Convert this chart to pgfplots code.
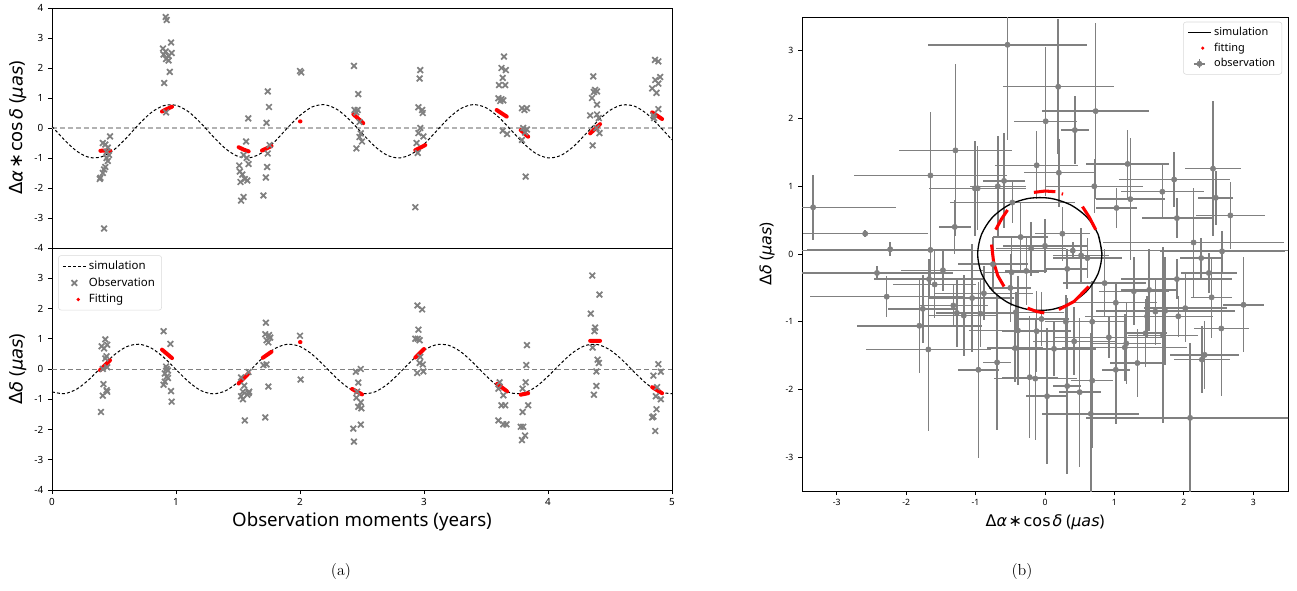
\documentclass[border=0pt]{standalone}
\usepackage{fontspec}
\usepackage{pgfplots}
\pgfplotsset{compat=1.18}
\newfontfamily\nsans{Noto Sans}
\newfontfamily\dv{DejaVu Sans}
\definecolor{obs}{RGB}{128,128,128}
\pgfplotsset{
  myax/.style={scale only axis, tick pos=left, tick align=outside, major tick length=3pt,
    axis line style={line width=0.7pt}, tick style={black,line width=0.6pt},
    tick label style={font=\nsans\fontsize{7.4}{8}\selectfont},
    label style={font=\nsans\fontsize{14}{16}\selectfont},
    unbounded coords=jump},
  obsx/.style={only marks, mark=x, mark size=3pt, color=obs, mark options={line width=1.3pt}},
  sim/.style={black, line width=0.75pt, dash pattern=on 2.2pt off 1.6pt, smooth, no marks},
  fit/.style={red, line width=3pt, line cap=round, no marks,
    legend image code/.code={\node[circle, fill=red, draw=none, inner sep=0pt, minimum size=2.8pt] at (0.3cm,0cm) {};}},
}
\newcommand{\dalab}{{\dv Δ\textit{α}\kern0.1em∗\kern0.1emcos\kern0.12em\textit{δ}} ({\dv\textit{μas}})}
\newcommand{\ddlab}{{\dv Δ\textit{δ}} ({\dv\textit{μas}})}
\begin{document}
\begin{tikzpicture}[x=1pt,y=1pt]
\path[use as bounding box] (0,0) rectangle (972.75,442.5);

%================ top left =================
\begin{axis}[myax, at={(39pt,256.5pt)}, anchor=south west, width=465pt, height=180pt,
  xmin=0, xmax=5, ymin=-4, ymax=4, xtick=\empty,
  ytick={-4,-3,-2,-1,0,1,2,3,4}, yticklabels={-4,-3,-2,-1,0,1,2,3,4},
  ylabel={\dalab}, ylabel style={at={(axis description cs:-0.055,0.5)}, anchor=center, font=\nsans\fontsize{13.5}{16}\selectfont}]
\addplot[gray!60, line width=1pt, dash pattern=on 4pt off 2pt] coordinates {(0,0) (5,0)};
\addplot[sim] coordinates {
(0,0.055)(0.1,-0.396)(0.2,-0.773)(0.3,-0.979)(0.4,-0.961)(0.5,-0.726)(0.6,-0.331)(0.7,0.121)(0.8,0.513)(0.9,0.744)
(1.0,0.756)(1.1,0.545)(1.2,0.165)(1.3,-0.286)(1.4,-0.691)(1.5,-0.947)(1.6,-0.988)(1.7,-0.805)(1.8,-0.438)(1.9,0.009)
(2.0,0.421)(2.1,0.706)(2.2,0.775)(2.3,0.617)(2.4,0.271)(2.5,-0.173)(2.6,-0.601)(2.7,-0.902)(2.8,-0.999)(2.9,-0.868)
(3.0,-0.542)(3.1,-0.104)(3.2,0.332)(3.3,0.655)(3.4,0.780)(3.5,0.676)(3.6,0.371)(3.7,-0.058)(3.8,-0.501)(3.9,-0.843)
(4.0,-0.996)(4.1,-0.921)(4.2,-0.638)(4.3,-0.219)(4.4,0.229)(4.5,0.590)(4.6,0.769)(4.7,0.723)(4.8,0.463)(4.9,0.055)(5.0,-0.396)};
\addplot[obsx] coordinates {
(0.468,-0.28)(0.41,-0.50)(0.43,-0.55)(0.45,-0.65)(0.44,-0.80)(0.46,-0.90)(0.44,-1.00)(0.45,-1.10)(0.43,-1.30)(0.42,-1.38)(0.41,-1.50)(0.39,-1.66)(0.385,-1.70)(0.42,-3.35)
(0.917,3.70)(0.925,3.60)(0.96,2.85)(0.895,2.65)(0.917,2.55)(0.965,2.50)(0.90,2.45)(0.94,2.40)(0.92,2.30)(0.94,2.25)(0.95,1.87)(0.905,1.50)(0.92,0.52)
(1.583,0.32)(1.565,-0.45)(1.545,-0.90)(1.57,-1.00)(1.51,-1.25)(1.515,-1.45)(1.535,-1.55)(1.555,-1.70)(1.575,-1.75)(1.52,-1.80)(1.585,-1.20)(1.545,-2.30)(1.525,-2.42)
(1.74,1.22)(1.75,0.70)(1.73,0.17)(1.755,-0.57)(1.74,-0.85)(1.735,-1.30)(1.725,-1.65)(1.705,-2.25)
(2.00,1.90)(2.01,1.85)
(2.435,2.07)(2.47,1.13)(2.44,0.60)(2.465,0.60)(2.455,0.52)(2.48,0.20)(2.49,-0.18)(2.48,-0.30)(2.50,-0.45)(2.455,-0.68)
(2.97,1.93)(2.965,1.65)(2.955,0.69)(2.99,0.50)(2.985,0.60)(2.97,0.00)(2.955,-0.17)(2.995,-0.28)(2.94,-0.50)(2.95,-0.83)(2.93,-2.64)
(3.645,2.38)(3.625,2.00)(3.66,1.93)(3.635,1.67)(3.605,1.43)(3.655,1.43)(3.60,0.99)(3.625,0.96)(3.64,0.92)(3.615,0.90)(3.635,-0.09)(3.67,-0.20)
(3.79,0.66)(3.83,0.66)(3.81,0.60)(3.80,0.00)(3.83,-0.05)(3.815,-0.15)(3.79,-0.40)(3.82,-1.62)
(4.365,1.72)(4.38,1.27)(4.395,1.22)(4.37,1.20)(4.355,1.00)(4.395,0.78)(4.34,0.42)(4.395,0.45)(4.41,0.33)(4.39,0.00)(4.415,-0.17)(4.36,-0.58)
(4.863,2.27)(4.89,2.22)(4.865,1.60)(4.905,1.70)(4.89,1.48)(4.84,1.32)(4.875,1.17)(4.89,0.63)(4.85,0.42)(4.855,0.33)};
\addplot[fit] coordinates {
(0.39,-0.76)(0.43,-0.75)(0.47,-0.76)(0.47,nan)
(0.887,0.55)(0.93,0.64)(0.968,0.71)(0.968,nan)
(1.505,-0.64)(1.545,-0.72)(1.586,-0.78)(1.586,nan)
(1.694,-0.75)(1.73,-0.68)(1.77,-0.60)(1.77,nan)
(2.0,0.22)(2.004,0.22)(2.004,nan)
(2.43,0.46)(2.51,0.16)(2.51,nan)
(2.93,-0.74)(3.01,-0.57)(3.01,nan)
(3.586,0.60)(3.667,0.38)(3.667,nan)
(3.78,-0.07)(3.84,-0.29)(3.84,nan)
(4.34,-0.18)(4.42,0.13)(4.42,nan)
(4.84,0.52)(4.92,0.30)};
\end{axis}

%================ bottom left =================
\begin{axis}[myax, at={(39pt,75pt)}, anchor=south west, width=465pt, height=181.5pt,
  xmin=0, xmax=5, ymin=-4, ymax=4,
  xtick={0,1,2,3,4,5}, xticklabels={0,1,2,3,4,5},
  ytick={-4,-3,-2,-1,0,1,2,3}, yticklabels={-4,-3,-2,-1,0,1,2,3},
  xlabel={Observation moments (years)}, xlabel style={at={(axis description cs:0.5,-0.132)}, anchor=center},
  ylabel={\ddlab}, ylabel style={at={(axis description cs:-0.055,0.5)}, anchor=center, font=\nsans\fontsize{13.5}{16}\selectfont},
  legend style={at={(0.01,0.97)}, anchor=north west, font=\nsans\fontsize{8.6}{10}\selectfont,
    draw=black!15, rounded corners=2pt, fill=white, row sep=0.5pt},
  legend cell align=left]
\addplot[gray, line width=0.7pt, dash pattern=on 4pt off 2pt, forget plot] coordinates {(0,0) (5,0)};
\addplot[sim] coordinates {
(0,-0.756)(0.1,-0.814)(0.2,-0.663)(0.3,-0.342)(0.4,0.068)(0.5,0.460)(0.6,0.734)(0.7,0.819)(0.8,0.693)(0.9,0.388)
(1.0,-0.016)(1.1,-0.416)(1.2,-0.711)(1.3,-0.820)(1.4,-0.720)(1.5,-0.435)(1.6,-0.037)(1.7,0.370)(1.8,0.681)(1.9,0.818)
(2.0,0.743)(2.1,0.477)(2.2,0.089)(2.3,-0.322)(2.4,-0.651)(2.5,-0.812)(2.6,-0.763)(2.7,-0.520)(2.8,-0.142)(2.9,0.272)
(3.0,0.619)(3.1,0.803)(3.2,0.782)(3.3,0.559)(3.4,0.193)(3.5,-0.223)(3.6,-0.580)(3.7,-0.790)(3.8,-0.796)(3.9,-0.597)
(4.0,-0.244)(4.1,0.171)(4.2,0.541)(4.3,0.775)(4.4,0.807)(4.5,0.631)(4.6,0.293)(4.7,-0.120)(4.8,-0.503)(4.9,-0.754)(5.0,-0.815)};
\addlegendentry{simulation}
\addplot[obsx] coordinates {
(0.43,0.98)(0.445,0.80)(0.40,0.75)(0.42,0.68)(0.44,0.42)(0.43,0.35)(0.41,0.00)(0.445,0.06)(0.415,-0.50)(0.41,-0.88)(0.44,-0.70)(0.445,-0.75)(0.395,-1.42)
(0.90,1.25)(0.955,0.83)(0.92,0.08)(0.925,0.00)(0.935,-0.05)(0.91,-0.15)(0.925,-0.25)(0.935,-0.30)(0.91,-0.42)(0.90,-0.52)(0.96,-0.73)(0.965,-1.08)
(1.525,-0.28)(1.55,-0.55)(1.54,-0.75)(1.59,-0.75)(1.575,-0.85)(1.525,-0.90)(1.54,-1.00)(1.585,-0.80)(1.555,-1.70)(1.585,-0.10)
(1.725,1.53)(1.72,1.15)(1.75,1.12)(1.76,1.04)(1.745,0.88)(1.73,0.95)(1.705,0.13)(1.73,0.15)(1.745,-0.58)(1.72,-1.60)
(2.00,1.10)(2.005,-0.35)
(2.45,-0.09)(2.49,0.00)(2.47,-0.45)(2.46,-0.75)(2.49,-1.10)(2.47,-1.25)(2.495,-1.30)(2.43,-1.97)(2.49,-1.84)(2.435,-2.40)(2.455,-0.95)
(2.947,2.10)(2.985,1.97)(2.955,1.30)(2.93,1.00)(2.95,1.00)(2.965,0.95)(2.97,0.40)(2.965,0.20)(2.99,0.15)(2.945,-0.13)(2.995,-0.08)
(3.61,-0.44)(3.60,-0.65)(3.64,-0.87)(3.625,-1.20)(3.655,-1.20)(3.60,-1.70)(3.64,-1.83)(3.665,-1.83)
(3.83,0.79)(3.825,0.13)(3.82,-0.44)(3.795,-0.65)(3.84,-1.20)(3.795,-1.42)(3.78,-1.91)(3.80,-1.91)(3.815,-2.20)(3.79,-2.35)
(4.357,3.09)(4.415,2.46)(4.345,1.83)(4.38,1.37)(4.375,1.25)(4.36,0.71)(4.40,0.31)(4.41,0.20)(4.39,-0.08)(4.39,-0.56)(4.37,-0.85)
(4.89,0.16)(4.91,-0.09)(4.85,-0.22)(4.87,-0.90)(4.91,-1.00)(4.875,-1.33)(4.85,-1.57)(4.84,-1.60)(4.865,-2.05)(4.88,-0.60)};
\addlegendentry{Observation}
\addplot[fit] coordinates {
(0.387,-0.04)(0.468,0.29)(0.468,nan)
(0.887,0.64)(0.968,0.36)(0.968,nan)
(1.505,-0.48)(1.586,-0.14)(1.586,nan)
(1.70,0.37)(1.77,0.57)(1.77,nan)
(2.0,0.89)(2.004,0.89)(2.004,nan)
(2.42,-0.66)(2.50,-0.84)(2.50,nan)
(2.93,0.38)(3.0,0.66)(3.0,nan)
(3.59,-0.49)(3.67,-0.74)(3.67,nan)
(3.78,-0.85)(3.84,-0.80)(3.84,nan)
(4.34,0.93)(4.42,0.93)(4.42,nan)
(4.84,-0.60)(4.92,-0.80)};
\addlegendentry{Fitting}
\end{axis}

%================ right =================
\begin{axis}[myax, at={(601.5pt,74.25pt)}, anchor=south west, width=364.5pt, height=355.5pt,
  xmin=-3.5, xmax=3.5, ymin=-3.5, ymax=3.5,
  xtick={-3,-2,-1,0,1,2,3}, xticklabels={-3,-2,-1,0,1,2,3},
  ytick={-3,-2,-1,0,1,2,3}, yticklabels={-3,-2,-1,0,1,2,3},
  tick label style={font=\nsans\fontsize{6.5}{7}\selectfont},
  label style={font=\nsans\fontsize{12}{14}\selectfont},
  xlabel={\dalab}, xlabel style={at={(axis description cs:0.5,-0.065)}, anchor=center},
  ylabel={\ddlab}, ylabel style={at={(axis description cs:-0.072,0.5)}, anchor=center},
  legend style={at={(0.988,0.99)}, anchor=north east, font=\nsans\fontsize{8.2}{9.5}\selectfont,
    draw=black!15, rounded corners=2pt, fill=white},
  legend cell align=left]
\addplot[only marks, mark=*, mark size=2pt, color=obs, forget plot,
  error bars/.cd, x dir=both, x explicit, y dir=both, y explicit, error mark=none,
  error bar style={obs, line width=1.1pt}] coordinates {
(-3.34,0.69) +- (1.2,0.48)
(-2.59,0.30) +- (0.9,0.05)
(-2.23,0.07) +- (1.2,0.1)
(0.40,0.05) +- (4.0,0.12)
(-1.65,1.16) +- (1.1,0.94)
(-1.65,0.06) +- (0.6,0.5)
(-1.29,1.53) +- (0.82,1.27)
(-1.30,0.40) +- (0.23,0.4)
(-1.01,0.97) +- (0.5,0.7)
(-0.97,0.97) +- (0.7,0.62)
(-0.68,1.00) +- (0.4,0.75)
(-0.59,1.08) +- (0.3,0.7)
(-0.54,3.09) +- (1.15,1.4)
(-0.12,1.31) +- (0.6,0.5)
(0.01,1.96) +- (0.45,1.1)
(0.00,0.12) +- (0.6,0.4)
(-0.47,0.76) +- (0.9,0.3)
(0.19,2.47) +- (0.8,1.0)
(0.73,2.11) +- (0.77,1.3)
(0.43,1.83) +- (0.2,0.5)
(1.19,1.33) +- (0.6,0.5)
(0.20,1.20) +- (0.5,0.5)
(1.86,1.10) +- (0.8,0.4)
(2.42,1.26) +- (0.4,1.0)
(2.46,0.83) +- (0.25,0.4)
(2.67,0.57) +- (0.5,0.5)
(1.90,0.53) +- (0.5,0.3)
(1.69,0.92) +- (0.6,0.4)
(1.03,0.68) +- (0.3,0.3)
(1.23,0.81) +- (0.5,0.9)
(0.71,1.00) +- (0.7,0.4)
(2.14,0.17) +- (1.3,0.8)
(2.55,0.04) +- (0.9,0.3)
(-2.42,-0.28) +- (1.1,0.1)
(-2.28,-0.63) +- (1.1,0.3)
(-1.67,-0.37) +- (0.8,0.3)
(-1.59,-0.45) +- (0.6,0.5)
(-1.47,-0.24) +- (0.6,0.3)
(-1.76,-0.81) +- (0.5,0.5)
(-1.81,-1.06) +- (0.9,0.7)
(-1.68,-1.41) +- (0.9,1.2)
(-1.32,-0.76) +- (0.5,0.3)
(-1.27,-0.87) +- (0.3,0.5)
(-1.17,-0.91) +- (0.5,0.6)
(-1.05,-0.65) +- (0.6,0.8)
(-0.93,-0.88) +- (0.5,0.5)
(-0.88,-0.58) +- (0.7,0.4)
(-0.96,-1.71) +- (0.3,1.3)
(-0.69,-1.60) +- (0.2,1.0)
(-0.42,-0.86) +- (0.7,0.3)
(-0.39,-1.13) +- (0.7,0.8)
(-0.43,-1.39) +- (0.4,0.5)
(-0.22,-1.82) +- (0.4,0.9)
(-0.14,-1.84) +- (0.6,0.9)
(-0.12,-1.14) +- (0.5,0.6)
(0.03,-2.10) +- (0.3,1.0)
(-0.05,-0.96) +- (0.4,0.4)
(-0.27,-0.25) +- (0.3,0.5)
(-0.48,-0.27) +- (0.4,0.5)
(-0.50,-0.50) +- (0.3,0.5)
(1.90,-0.37) +- (0.8,0.3)
(2.25,-0.06) +- (0.3,0.3)
(2.36,-0.28) +- (0.4,0.3)
(2.40,-0.64) +- (0.3,0.6)
(2.54,-1.10) +- (0.4,1.0)
(2.86,-0.75) +- (0.3,0.7)
(1.28,-0.55) +- (0.5,0.5)
(1.50,-0.53) +- (0.4,0.6)
(1.02,-0.72) +- (0.6,0.3)
(1.59,-0.85) +- (0.7,0.5)
(1.47,-0.92) +- (0.9,0.3)
(1.73,-0.84) +- (1.0,0.8)
(2.02,-0.80) +- (0.6,0.5)
(1.92,-0.92) +- (0.5,0.3)
(1.45,-1.17) +- (0.3,0.5)
(1.70,-1.20) +- (0.5,1.3)
(0.92,-1.23) +- (0.8,0.3)
(1.17,-1.32) +- (0.5,0.6)
(1.15,-1.38) +- (0.9,0.5)
(1.33,-1.61) +- (0.4,0.5)
(1.02,-1.71) +- (0.2,0.8)
(2.26,-1.56) +- (0.4,0.5)
(2.30,-1.49) +- (0.5,0.5)
(2.09,-2.42) +- (1.5,1.1)
(0.66,-2.36) +- (0.7,1.2)
(0.32,-1.95) +- (0.2,1.3)
(0.50,-2.04) +- (0.3,1.1)
(0.68,-1.87) +- (0.3,1.0)
(0.13,-1.40) +- (0.6,0.4)
(0.42,-1.29) +- (0.6,0.5)
(0.30,-1.00) +- (0.3,0.4)
(0.68,-1.00) +- (0.5,0.6)
(0.86,-0.43) +- (0.6,0.5)
(0.32,-0.22) +- (0.3,0.3)
(0.61,-0.06) +- (0.5,0.3)
(0.52,-0.02) +- (0.4,0.4)
(-0.20,0.08) +- (0.5,0.4)
(-0.35,0.25) +- (0.4,0.5)
(0.25,0.30) +- (0.4,0.4)
(-0.75,-0.15) +- (0.5,0.4)
};
\addplot[black, line width=1pt, smooth, no marks] coordinates {
(0.820,0)(0.766,0.286)(0.611,0.537)(0.373,0.723)(0.080,0.822)(-0.230,0.822)(-0.523,0.723)(-0.761,0.537)(-0.916,0.286)
(-0.970,0)(-0.916,-0.286)(-0.761,-0.537)(-0.523,-0.723)(-0.230,-0.822)(0.080,-0.822)(0.373,-0.723)(0.611,-0.537)(0.766,-0.286)(0.820,0)(0.766,0.286)};
\addlegendentry{simulation}
\addplot[red, line width=2.3pt, no marks, legend image code/.code={\node[circle, fill=red, draw=none, inner sep=0pt, minimum size=2.6pt] at (0.3cm,0cm) {};}] coordinates {
(-0.16,0.91)(0,0.93)(0.15,0.92)(0.15,nan)
(0.24,0.89)(0.26,0.885)(0.26,nan)
(0.54,0.70)(0.64,0.54)(0.73,0.36)(0.73,nan)
(-0.54,0.65)(-0.63,0.51)(-0.71,0.36)(-0.71,nan)
(-0.77,0.14)(-0.74,-0.12)(-0.68,-0.32)(-0.59,-0.48)(-0.59,nan)
(-0.25,-0.80)(-0.12,-0.85)(-0.01,-0.87)(-0.01,nan)
(0.20,-0.82)(0.42,-0.70)(0.63,-0.48)};
\addlegendentry{fitting}
\addlegendimage{legend image code/.code={\draw[obs, line width=1.1pt] (0.15cm,0cm)--(0.45cm,0cm) (0.3cm,-0.12cm)--(0.3cm,0.12cm); \fill[obs] (0.3cm,0cm) circle (2pt);}}
\addlegendentry{observation}
\end{axis}

\node[font=\fontsize{12}{14}\selectfont] at (255.75,13.5) {(a)};
\node[font=\fontsize{12}{14}\selectfont] at (766.5,13.5) {(b)};
\end{tikzpicture}
\end{document}
